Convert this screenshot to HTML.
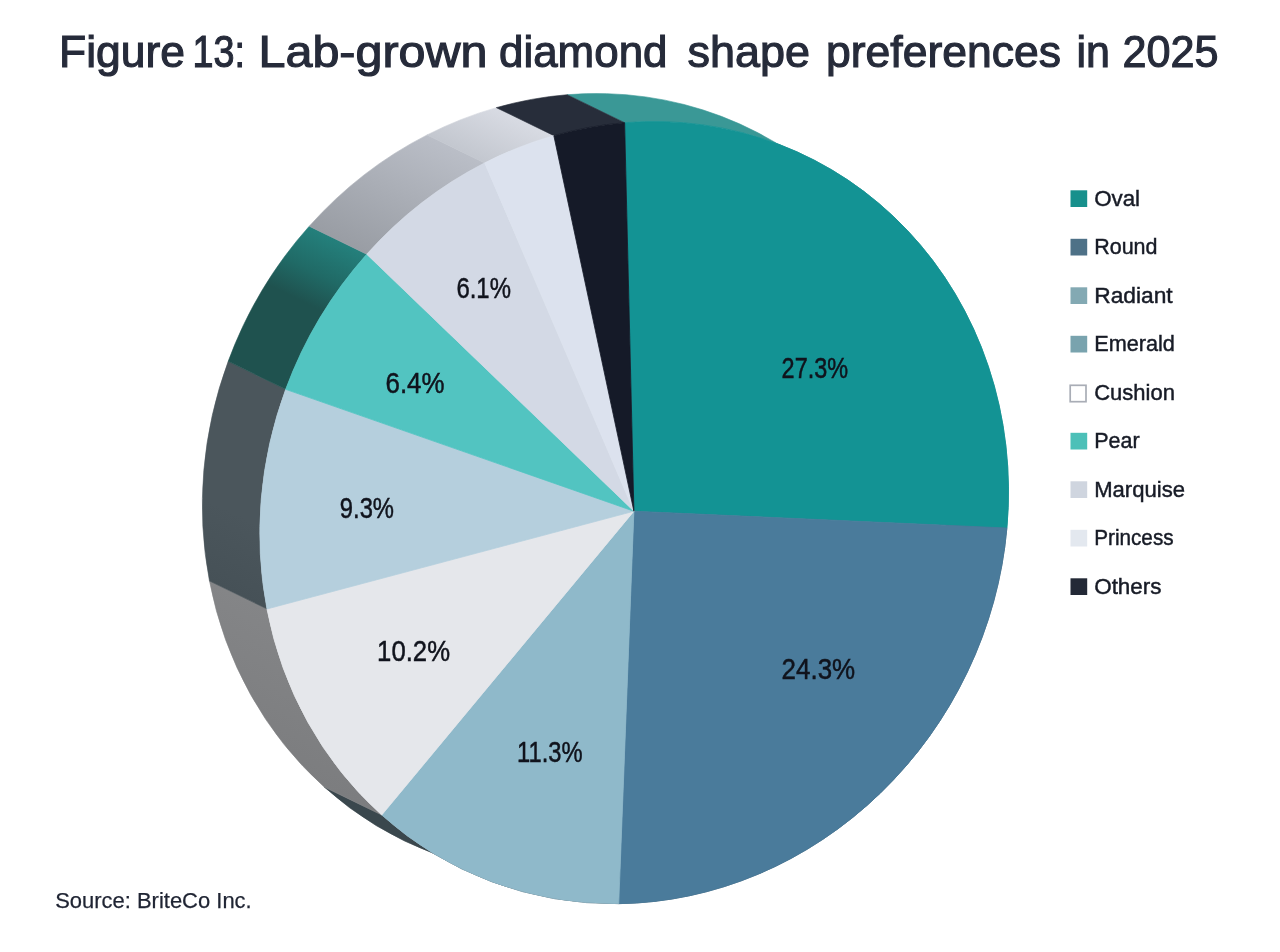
<!DOCTYPE html>
<html><head><meta charset="utf-8"><title>Figure 13</title>
<style>
html,body{margin:0;padding:0;background:#fff;}
body{width:1280px;height:952px;overflow:hidden;font-family:"Liberation Sans",sans-serif;}
svg{display:block}
.title{font-size:43.5px;fill:#262b3a;stroke:#262b3a;stroke-width:1.1px;}
.lab{font-size:30px;fill:#10131c;stroke:#10131c;stroke-width:0.5px;}
.leg text{font-size:22.3px;fill:#171b26;stroke:#171b26;stroke-width:0.45px;}
.src{font-size:22.2px;fill:#1f2433;stroke:#1f2433;stroke-width:0.25px;}
</style></head><body>
<svg width="1280" height="952" viewBox="0 0 1280 952" font-family="Liberation Sans, sans-serif">
<defs><linearGradient id="g0" gradientUnits="userSpaceOnUse" x1="595.9" y1="108.7" x2="509.6" y2="285.9"><stop offset="0" stop-color="#3a9896"/><stop offset="1" stop-color="#3a9896"/></linearGradient><linearGradient id="g1" gradientUnits="userSpaceOnUse" x1="978.1" y1="514.0" x2="755.9" y2="970.4"><stop offset="0" stop-color="#2f4f66"/><stop offset="1" stop-color="#2f4f66"/></linearGradient><linearGradient id="g2" gradientUnits="userSpaceOnUse" x1="590.0" y1="889.7" x2="579.4" y2="911.3"><stop offset="0" stop-color="#3a474d"/><stop offset="1" stop-color="#3a474d"/></linearGradient><linearGradient id="g3" gradientUnits="userSpaceOnUse" x1="353.0" y1="801.0" x2="412.1" y2="679.6"><stop offset="0" stop-color="#7c7d7f"/><stop offset="1" stop-color="#848587"/></linearGradient><linearGradient id="g4" gradientUnits="userSpaceOnUse" x1="238.2" y1="595.0" x2="328.3" y2="410.1"><stop offset="0" stop-color="#465157"/><stop offset="0.35" stop-color="#4b565c"/><stop offset="1" stop-color="#4b565c"/></linearGradient><linearGradient id="g5" gradientUnits="userSpaceOnUse" x1="257.0" y1="375.3" x2="325.7" y2="234.2"><stop offset="0" stop-color="#1f524f"/><stop offset="0.55" stop-color="#1f524f"/><stop offset="0.75" stop-color="#206a66"/><stop offset="1" stop-color="#24807c"/></linearGradient><linearGradient id="g6" gradientUnits="userSpaceOnUse" x1="338.0" y1="240.2" x2="396.6" y2="120.0"><stop offset="0" stop-color="#999da4"/><stop offset="1" stop-color="#babec7"/></linearGradient><linearGradient id="g7" gradientUnits="userSpaceOnUse" x1="455.9" y1="148.9" x2="479.9" y2="99.6"><stop offset="0" stop-color="#c3c7cf"/><stop offset="1" stop-color="#d8dbe3"/></linearGradient><linearGradient id="g8" gradientUnits="userSpaceOnUse" x1="525.1" y1="121.6" x2="543.7" y2="83.3"><stop offset="0" stop-color="#272d3a"/><stop offset="1" stop-color="#272d3a"/></linearGradient></defs>
<rect width="1280" height="952" fill="#ffffff"/>
<text class="title" y="67"><tspan x="59" textLength="126" lengthAdjust="spacingAndGlyphs">Figure</tspan> <tspan x="192.5" textLength="52.5" lengthAdjust="spacingAndGlyphs">13:</tspan> <tspan x="258.5" textLength="229.0" lengthAdjust="spacingAndGlyphs">Lab-grown</tspan> <tspan x="499" textLength="168.5" lengthAdjust="spacingAndGlyphs">diamond</tspan> <tspan x="687.5" textLength="122.5" lengthAdjust="spacingAndGlyphs">shape</tspan> <tspan x="826" textLength="235" lengthAdjust="spacingAndGlyphs">preferences</tspan> <tspan x="1076.5" textLength="33.5" lengthAdjust="spacingAndGlyphs">in</tspan> <tspan x="1122.5" textLength="96.0" lengthAdjust="spacingAndGlyphs">2025</tspan></text>
<g><path d="M624.61,122.71 A369.37,395.78 25.29 0 1 1006.89,528.04 L949.39,500.04 A369.37,395.78 25.29 0 0 567.11,94.71 Z" fill="url(#g0)" stroke="url(#g0)" stroke-width="0.6" stroke-linejoin="round"/><path d="M1006.89,528.04 A369.37,395.78 25.29 0 1 618.72,903.65 L561.22,875.65 A369.37,395.78 25.29 0 0 949.39,500.04 Z" fill="url(#g1)" stroke="url(#g1)" stroke-width="0.6" stroke-linejoin="round"/><path d="M618.72,903.65 A369.37,395.78 25.29 0 1 381.72,815.01 L324.22,787.01 A369.37,395.78 25.29 0 0 561.22,875.65 Z" fill="url(#g2)" stroke="url(#g2)" stroke-width="0.6" stroke-linejoin="round"/><path d="M381.72,815.01 A369.37,395.78 25.29 0 1 266.98,608.96 L209.48,580.96 A369.37,395.78 25.29 0 0 324.22,787.01 Z" fill="url(#g3)" stroke="url(#g3)" stroke-width="0.6" stroke-linejoin="round"/><path d="M266.98,608.96 A369.37,395.78 25.29 0 1 285.71,389.34 L228.21,361.34 A369.37,395.78 25.29 0 0 209.48,580.96 Z" fill="url(#g4)" stroke="url(#g4)" stroke-width="0.6" stroke-linejoin="round"/><path d="M285.71,389.34 A369.37,395.78 25.29 0 1 366.74,254.22 L309.24,226.22 A369.37,395.78 25.29 0 0 228.21,361.34 Z" fill="url(#g5)" stroke="url(#g5)" stroke-width="0.6" stroke-linejoin="round"/><path d="M366.74,254.22 A369.37,395.78 25.29 0 1 484.68,162.88 L427.18,134.88 A369.37,395.78 25.29 0 0 309.24,226.22 Z" fill="url(#g6)" stroke="url(#g6)" stroke-width="0.6" stroke-linejoin="round"/><path d="M484.68,162.88 A369.37,395.78 25.29 0 1 553.83,135.63 L496.33,107.63 A369.37,395.78 25.29 0 0 427.18,134.88 Z" fill="url(#g7)" stroke="url(#g7)" stroke-width="0.6" stroke-linejoin="round"/><path d="M553.83,135.63 A369.37,395.78 25.29 0 1 624.61,122.71 L567.11,94.71 A369.37,395.78 25.29 0 0 496.33,107.63 Z" fill="url(#g8)" stroke="url(#g8)" stroke-width="0.6" stroke-linejoin="round"/></g>
<g><path d="M633.90,511.20 L624.61,122.71 A369.37,395.78 25.29 0 1 1006.89,528.04 Z" fill="#139394" stroke="#139394" stroke-width="0.8" stroke-linejoin="round"/><path d="M633.90,511.20 L1006.89,528.04 A369.37,395.78 25.29 0 1 618.72,903.65 Z" fill="#4a7b9b" stroke="#4a7b9b" stroke-width="0.8" stroke-linejoin="round"/><path d="M633.90,511.20 L618.72,903.65 A369.37,395.78 25.29 0 1 381.72,815.01 Z" fill="#8fb9ca" stroke="#8fb9ca" stroke-width="0.8" stroke-linejoin="round"/><path d="M633.90,511.20 L381.72,815.01 A369.37,395.78 25.29 0 1 266.98,608.96 Z" fill="#e5e7eb" stroke="#e5e7eb" stroke-width="0.8" stroke-linejoin="round"/><path d="M633.90,511.20 L266.98,608.96 A369.37,395.78 25.29 0 1 285.71,389.34 Z" fill="#b5cfdd" stroke="#b5cfdd" stroke-width="0.8" stroke-linejoin="round"/><path d="M633.90,511.20 L285.71,389.34 A369.37,395.78 25.29 0 1 366.74,254.22 Z" fill="#52c4c1" stroke="#52c4c1" stroke-width="0.8" stroke-linejoin="round"/><path d="M633.90,511.20 L366.74,254.22 A369.37,395.78 25.29 0 1 484.68,162.88 Z" fill="#d3d9e5" stroke="#d3d9e5" stroke-width="0.8" stroke-linejoin="round"/><path d="M633.90,511.20 L484.68,162.88 A369.37,395.78 25.29 0 1 553.83,135.63 Z" fill="#dce2ee" stroke="#dce2ee" stroke-width="0.8" stroke-linejoin="round"/><path d="M633.90,511.20 L553.83,135.63 A369.37,395.78 25.29 0 1 624.61,122.71 Z" fill="#151a28" stroke="#151a28" stroke-width="0.8" stroke-linejoin="round"/></g>
<g class="lab"><text x="781.6" y="378.1" textLength="66.5" lengthAdjust="spacingAndGlyphs">27.3%</text><text x="781.6" y="678.7" textLength="73.6" lengthAdjust="spacingAndGlyphs">24.3%</text><text x="517.1" y="761.9" textLength="65.6" lengthAdjust="spacingAndGlyphs">11.3%</text><text x="377.1" y="661.1" textLength="72.9" lengthAdjust="spacingAndGlyphs">10.2%</text><text x="339.8" y="517.7" textLength="54.2" lengthAdjust="spacingAndGlyphs">9.3%</text><text x="385.5" y="392.5" textLength="59.0" lengthAdjust="spacingAndGlyphs">6.4%</text><text x="456.4" y="298.2" textLength="54.5" lengthAdjust="spacingAndGlyphs">6.1%</text></g>
<g class="leg"><rect x="1070.5" y="190.3" width="16.7" height="16.7" fill="#17908c"/><text x="1094.2" y="205.8" textLength="45.9" lengthAdjust="spacingAndGlyphs">Oval</text><rect x="1070.5" y="238.8" width="16.7" height="16.7" fill="#4e7187"/><text x="1094.2" y="254.3" textLength="63.3" lengthAdjust="spacingAndGlyphs">Round</text><rect x="1070.5" y="287.3" width="16.7" height="16.7" fill="#83a9b3"/><text x="1094.2" y="302.8" textLength="78.5" lengthAdjust="spacingAndGlyphs">Radiant</text><rect x="1070.5" y="335.8" width="16.7" height="16.7" fill="#79a3ae"/><text x="1094.2" y="351.3" textLength="80.7" lengthAdjust="spacingAndGlyphs">Emerald</text><rect x="1070.2" y="385.3" width="15.8" height="16.4" fill="#ffffff" stroke="#a9adb6" stroke-width="1.7"/><text x="1094.2" y="399.8" textLength="80.7" lengthAdjust="spacingAndGlyphs">Cushion</text><rect x="1070.5" y="432.8" width="16.7" height="16.7" fill="#4cc0b8"/><text x="1094.2" y="448.3" textLength="45.4" lengthAdjust="spacingAndGlyphs">Pear</text><rect x="1070.5" y="481.3" width="16.7" height="16.7" fill="#cfd5df"/><text x="1094.2" y="496.8" textLength="90.8" lengthAdjust="spacingAndGlyphs">Marquise</text><rect x="1070.5" y="529.8" width="16.7" height="16.7" fill="#e3e8ef"/><text x="1094.2" y="545.3" textLength="79.4" lengthAdjust="spacingAndGlyphs">Princess</text><rect x="1070.5" y="578.3" width="16.7" height="16.7" fill="#232936"/><text x="1094.2" y="593.8" textLength="67.3" lengthAdjust="spacingAndGlyphs">Others</text></g>
<text class="src" x="55.2" y="907.6" textLength="196.5" lengthAdjust="spacingAndGlyphs">Source: BriteCo Inc.</text>
</svg>
</body></html>
